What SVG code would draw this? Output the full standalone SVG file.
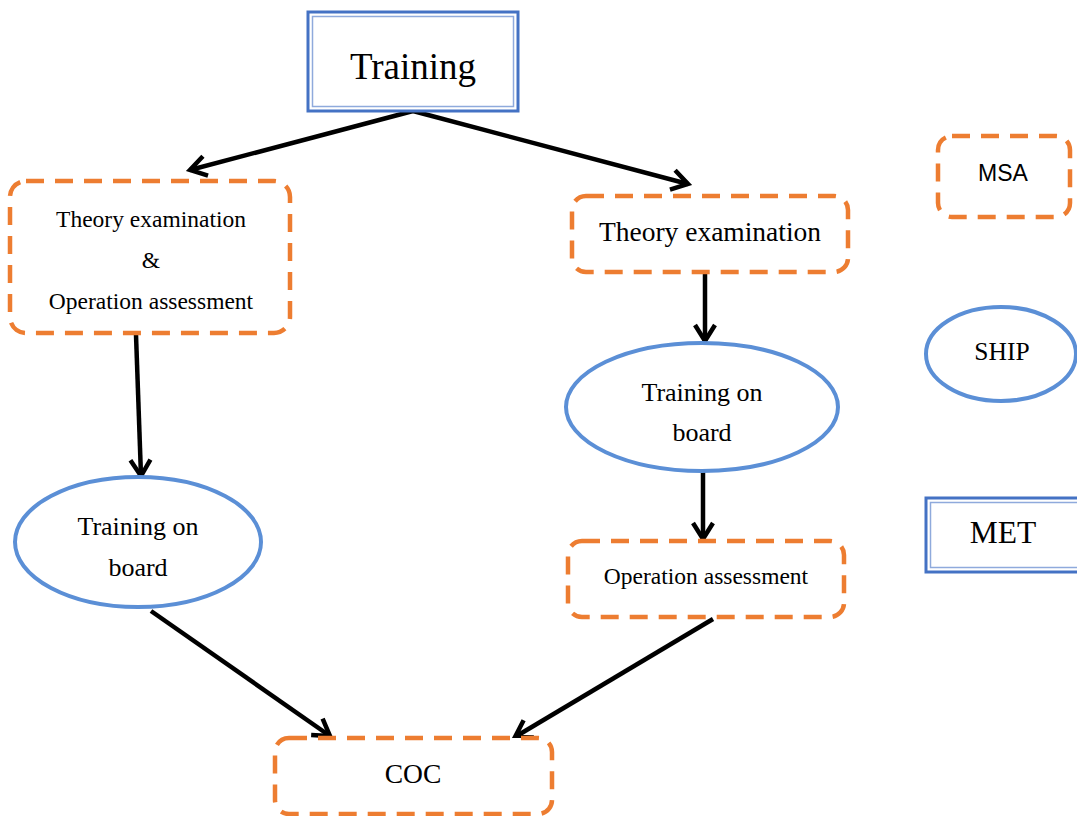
<svg xmlns="http://www.w3.org/2000/svg" width="1077" height="816" viewBox="0 0 1077 816">
<style>
.bg{fill:#fff}
.dash{fill:#fff;stroke:#ED7D31;stroke-width:4.5;stroke-dasharray:18 11}
.ell{fill:#fff;stroke:#5B8FD6;stroke-width:4}
.dblo{fill:#fff;stroke:#4472C4;stroke-width:3}
.dbli{fill:none;stroke:#8FAADC;stroke-width:1.5}
.t{font-family:"Liberation Serif","Times New Roman",serif;fill:#000;text-anchor:middle}
.s{font-family:"Liberation Sans",Arial,sans-serif;fill:#000;text-anchor:middle}
.c{stroke:#000;stroke-width:4.5;fill:none;marker-end:url(#ah)}
</style>
<defs>
<marker id="ah" markerUnits="userSpaceOnUse" markerWidth="26" markerHeight="26" viewBox="0 0 26 26" refX="22" refY="13" orient="auto">
<path d="M6,3 L22,13 L6,23" fill="none" stroke="#000" stroke-width="4.5"/>
</marker>
</defs>
<rect class="bg" x="0" y="0" width="1077" height="816"/>
<g id="connectors">
<line class="c" x1="413" y1="111" x2="190" y2="170"/>
<line class="c" x1="413" y1="111" x2="688" y2="184"/>
<line class="c" x1="136" y1="335" x2="141" y2="476"/>
<line class="c" x1="705" y1="273" x2="705" y2="341"/>
<line class="c" x1="703" y1="471" x2="703" y2="539"/>
<line class="c" x1="151" y1="611" x2="330" y2="736"/>
<line class="c" x1="713" y1="619" x2="515" y2="737"/>
</g>
<g id="training">
<rect class="dblo" x="308" y="12" width="210" height="99"/>
<rect class="dbli" x="312.5" y="16.5" width="201" height="90"/>
<text class="t" x="413" y="79" font-size="37">Training</text>
</g>
<g id="left-theory">
<rect class="dash" x="10" y="181" width="280" height="152" rx="16"/>
<text class="t" x="151" y="227" font-size="23.5">Theory examination</text>
<text class="t" x="151" y="268" font-size="23.5">&amp;</text>
<text class="t" x="151" y="309" font-size="23.5">Operation assessment</text>
</g>
<g id="right-theory">
<rect class="dash" x="572" y="196" width="276" height="76" rx="14"/>
<text class="t" x="710" y="241" font-size="27.5">Theory examination</text>
</g>
<g id="right-board">
<ellipse class="ell" cx="702" cy="407" rx="136" ry="64"/>
<text class="t" x="702" y="401" font-size="26">Training on</text>
<text class="t" x="702" y="441" font-size="26">board</text>
</g>
<g id="right-operation">
<rect class="dash" x="568" y="541" width="276" height="76" rx="14"/>
<text class="t" x="706" y="584" font-size="23.5">Operation assessment</text>
</g>
<g id="left-board">
<ellipse class="ell" cx="138" cy="542" rx="123" ry="65"/>
<text class="t" x="138" y="535" font-size="26">Training on</text>
<text class="t" x="138" y="576" font-size="26">board</text>
</g>
<g id="coc">
<rect class="dash" x="275" y="738" width="277" height="76" rx="14"/>
<text class="t" x="413" y="783" font-size="27.5">COC</text>
</g>
<g id="msa">
<rect class="dash" x="938" y="136" width="132" height="81" rx="14"/>
<text class="s" x="1003" y="181" font-size="23">MSA</text>
</g>
<g id="ship">
<ellipse class="ell" cx="1001" cy="354" rx="75" ry="47"/>
<text class="t" x="1002" y="360" font-size="25.5">SHIP</text>
</g>
<g id="met">
<rect class="dblo" x="926" y="498" width="170" height="74"/>
<rect class="dbli" x="930.5" y="502.5" width="170" height="65"/>
<text class="t" x="1003" y="543" font-size="31.5">MET</text>
</g>
</svg>
